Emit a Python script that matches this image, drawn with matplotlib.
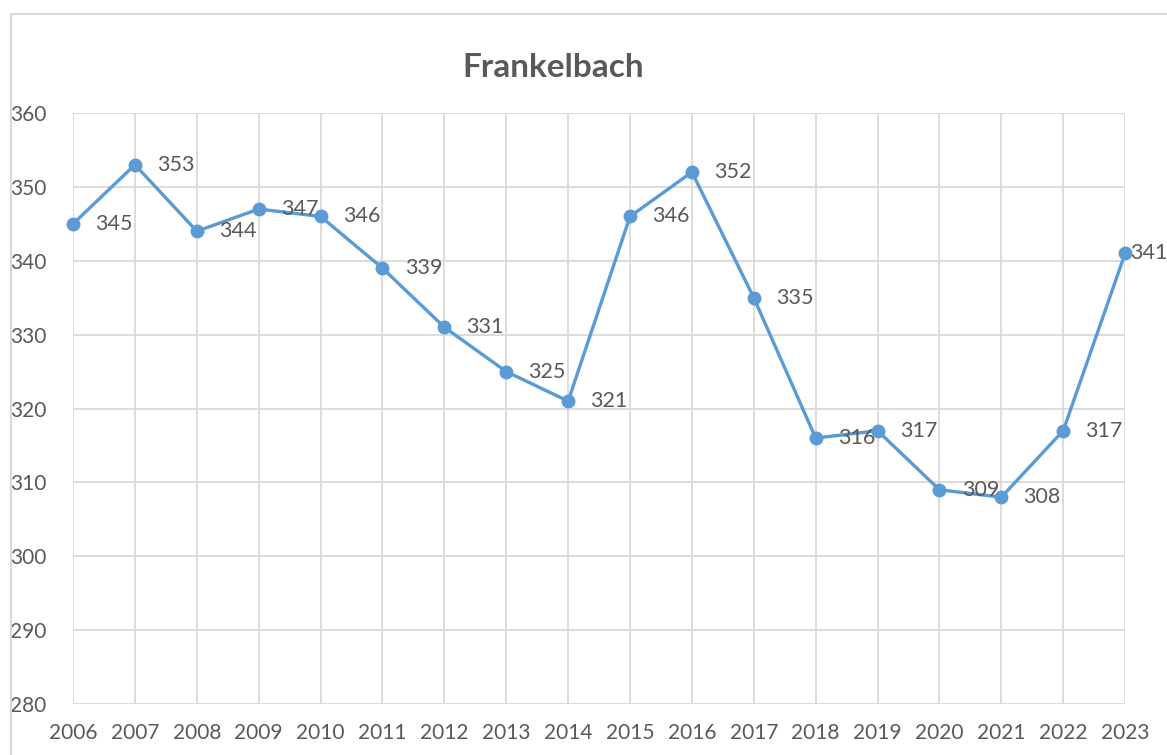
import matplotlib
matplotlib.use('Agg')
import matplotlib.pyplot as plt
from matplotlib.patches import Rectangle

plt.rcParams['font.family'] = ['Lato', 'DejaVu Sans']

years = [2006, 2007, 2008, 2009, 2010, 2011, 2012, 2013, 2014,
         2015, 2016, 2017, 2018, 2019, 2020, 2021, 2022, 2023]
values = [345, 353, 344, 347, 346, 339, 331, 325, 321,
          346, 352, 335, 316, 317, 309, 308, 317, 341]
y_ticks = [280, 290, 300, 310, 320, 330, 340, 350, 360]

text_col = '#595959'
grid_col = '#D9D9D9'
line_col = '#5B9BD5'

fig = plt.figure(figsize=(11.67, 7.55), dpi=100)
ax = fig.add_axes([0.0626, 0.0675, 0.9015, 0.7828])

# outer chart frame (cut off at right/bottom like the screenshot)
fig.patches.append(Rectangle((0.0094, -0.05), 1.2, 0.9815 + 0.05,
                             transform=fig.transFigure, fill=False,
                             edgecolor=grid_col, linewidth=1.5))

x = list(range(len(years)))
ax.plot(x, values, color=line_col, linewidth=2.4, marker='o',
        markersize=9, zorder=3, clip_on=False)

for i, v in enumerate(values):
    # last label squeezed against the right edge
    off = 3.5 if i == len(values) - 1 else 16
    ax.annotate(str(v), (i, v), xytext=(off, 0), textcoords='offset points',
                ha='left', va='center', fontsize=15.5, color=text_col,
                annotation_clip=False)

ax.set_xlim(0, len(years) - 1)
ax.set_ylim(280, 360)
ax.set_xticks(x)
ax.set_xticklabels([str(y) for y in years])
ax.set_yticks(y_ticks)
ax.grid(True, color=grid_col, linewidth=1.3)
ax.set_axisbelow(True)
for s in ax.spines.values():
    s.set_visible(False)
ax.tick_params(length=0, labelsize=15, labelcolor=text_col)
ax.tick_params(axis='y', pad=19)
ax.tick_params(axis='x', pad=14)

fig.text(0.474, 0.911, 'Frankelbach', ha='center', va='center',
         fontsize=24, fontweight='bold', color=text_col)

fig.savefig('out.png', dpi=100)
